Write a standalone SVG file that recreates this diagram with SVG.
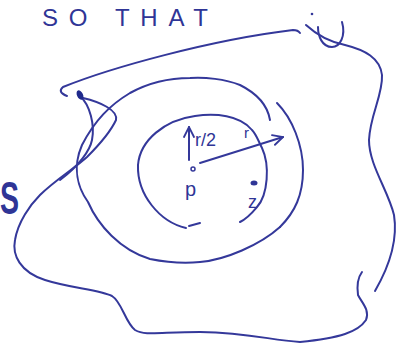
<svg xmlns="http://www.w3.org/2000/svg" width="406" height="357" viewBox="0 0 406 357">
<style>
.pen{fill:none;stroke:#34389a;stroke-width:2;stroke-linecap:round;stroke-linejoin:round}
.lbl{font-family:"Liberation Sans",Arial,sans-serif;fill:#2f3596}
</style>
<defs>
<marker id="ah" viewBox="0 0 12 12" refX="11" refY="6" markerWidth="12" markerHeight="12" markerUnits="userSpaceOnUse" orient="auto">
<path d="M1,1 L11,6 L1,11" fill="none" stroke="#34389a" stroke-width="1.8" stroke-linecap="round"/>
</marker>
</defs>
<rect width="406" height="357" fill="#fff"/>
<text class="lbl" x="42" y="26" font-size="24" textLength="166" lengthAdjust="spacing">SO THAT</text>
<text class="lbl" x="0" y="214" font-size="46" font-weight="bold" fill="#1f2a8c" transform="translate(0 0) scale(0.62 1)">S</text>
<g id="outer">
<path class="pen" d="M67,96 Q57,92 63,87 C110,68 210,40 293,30 Q298,30 300,33"/>
<path class="pen" d="M306,25 C318,36 330,42 345,45 C365,50 380,58 382,75 C383,95 370,115 369,140 C369,165 388,190 394,215 C398,240 390,265 375,291"/>
<path class="pen" d="M362,272 Q356,280 358,295 C362,303 370,310 366,320 C358,332 340,338 300,342 C270,340 250,333 200,332 C160,332 145,336 135,330 C125,322 122,302 112,296 C100,290 70,288 45,280 C20,272 12,255 15,240 C18,222 30,205 40,195 C55,180 75,168 87,157 C97,147 110,133 116,120 C118,110 100,102 83,98"/>
<path class="pen" d="M80,96 C90,105 95,125 92,140 C90,150 80,165 60,180"/>
<ellipse cx="80" cy="95" rx="3" ry="5" transform="rotate(-25 80 95)" fill="#1f2a8c"/>
</g>
<g id="U">
<path class="pen" d="M318,27 C318,36 322,47 332,47 C340,47 346,36 342,22"/>
<circle cx="312" cy="14" r="1.3" fill="#34389a"/>
</g>
<g id="middle">
<path class="pen" d="M270,120 C268,108 260,95 240,85 C225,79 205,77 190,78 C170,78 150,82 130,93 C110,105 95,120 82,145 C72,168 78,188 88,202 C98,225 120,250 150,259 C170,263 190,263 200,262 C225,260 260,245 280,227"/>
<path class="pen" d="M277,103 C292,118 303,145 303,170 C303,195 295,212 280,227"/>
</g>
<g id="inner">
<path class="pen" d="M240,222 C248,218 252,213 257,207 C268,195 270,165 262,148 C258,140 256,134 252,130 C240,115 215,113 195,116 C165,120 140,140 138,165 C137,195 160,222 186,228"/>
<path class="pen" d="M189,226 L200,223"/>
</g>
<g id="p">
<circle cx="193" cy="169" r="2" fill="none" stroke="#34389a" stroke-width="1.5"/>
<text class="lbl" x="185" y="196" font-size="20">p</text>
</g>
<g id="connectors">
<path class="pen" d="M200,163 L283,137" marker-end="url(#ah)"/>
<path class="pen" d="M189,160 L189,127" marker-end="url(#ah)"/>
</g>
<text class="lbl" x="195" y="146" font-size="18">r/2</text>
<text class="lbl" x="244" y="138" font-size="15">r</text>
<ellipse cx="254" cy="183" rx="3.5" ry="2.5" fill="#2f3596"/>
<text class="lbl" x="248" y="208" font-size="18">z</text>
</svg>
